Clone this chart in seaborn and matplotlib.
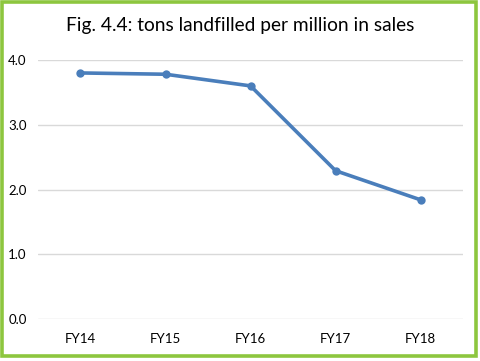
import matplotlib
matplotlib.use("Agg")
import matplotlib.pyplot as plt
import seaborn as sns
import pandas as pd
from matplotlib.patches import Rectangle

years = ["FY14", "FY15", "FY16", "FY17", "FY18"]
tons_per_million = [3.80, 3.78, 3.60, 2.29, 1.84]
y_ticks = [0.0, 1.0, 2.0, 3.0, 4.0]

sns.set_style("white")
plt.rcParams["font.family"] = ["Lato", "DejaVu Sans"]

df = pd.DataFrame({"year": years, "value": tons_per_million})

fig = plt.figure(figsize=(4.8, 3.61), dpi=100)
ax = fig.add_axes([0.079, 0.1163, 0.886, 0.7175])

sns.lineplot(data=df, x="year", y="value", ax=ax, color="#4a7ebb",
             linewidth=2.6, marker="o", markersize=6, markeredgewidth=0,
             sort=False)

ax.set_xlim(-0.5, len(years) - 0.5)
ax.set_ylim(0, 4)
ax.set_yticks(y_ticks)
ax.set_yticklabels([f"{v:.1f}" for v in y_ticks])
ax.yaxis.grid(True, color="#d9d9d9", linewidth=1)
ax.set_axisbelow(True)
for s in ax.spines.values():
    s.set_visible(False)
ax.tick_params(axis="both", length=0, labelsize=9.5, colors="#000000")
ax.tick_params(axis="y", pad=8)
ax.tick_params(axis="x", pad=10)
ax.set_xlabel("")
ax.set_ylabel("")

fig.text(0.5, 0.93, "Fig. 4.4: tons landfilled per million in sales",
         ha="center", va="center", fontsize=13.8, color="#000000")

# green frame around the chart
fig.patches.append(Rectangle((1.5 / 480, 1 - 356 / 361), 474.5 / 480, 354.5 / 361,
                             transform=fig.transFigure, fill=False,
                             edgecolor="#8dc63f", linewidth=2.6, zorder=10))

fig.savefig("out.png", dpi=100)
